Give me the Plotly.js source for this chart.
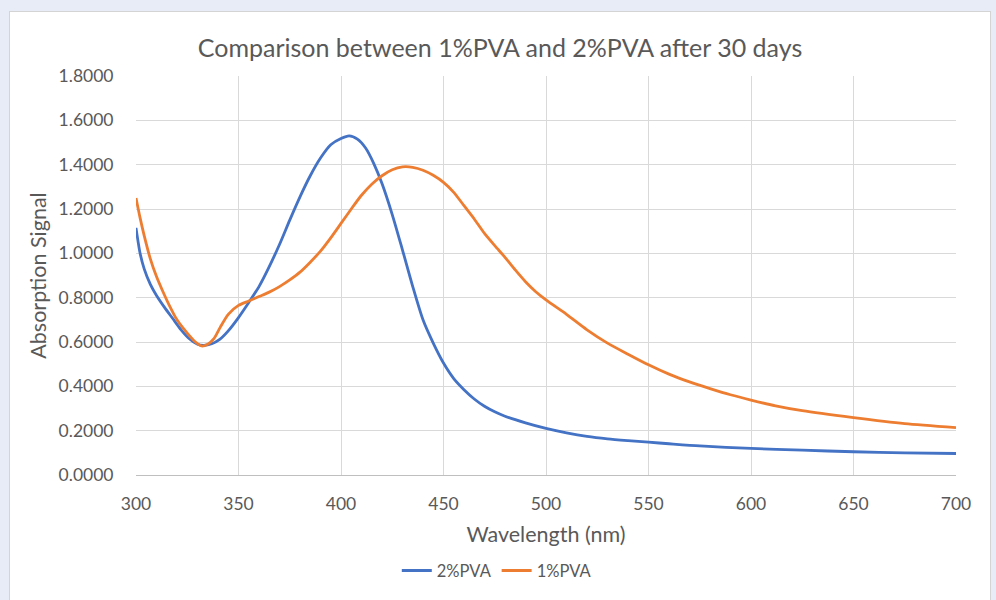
<!DOCTYPE html>
<html>
<head>
<meta charset="utf-8">
<script src="https://cdn.plot.ly/plotly-3.0.1.min.js"></script>
<style>
  html, body { margin: 0; padding: 0; background: #E8ECF6; width: 996px; height: 600px; overflow: hidden; }
  #frame { position: absolute; left: 9px; top: 11px; width: 980px; height: 589px; background: #fff; border: 1px solid #d4d4d4; border-bottom: none; }
  #chart { width: 980px; height: 589px; }
</style>
</head>
<body>
<div id="frame"><div id="chart"></div></div>
<script>
const wavelengthBlue = [300, 302, 304, 307, 310, 314, 318, 322, 326, 330, 333, 337, 341, 345, 350, 355, 360, 365, 370, 375, 380, 385, 390, 395, 400, 404, 408, 412, 416, 420, 425, 430, 435, 440, 445, 450, 455, 460, 465, 470, 475, 480, 490, 500, 510, 520, 530, 540, 550, 560, 575, 600, 625, 650, 675, 700];
const pva2 = [1.115, 1.0, 0.93, 0.86, 0.81, 0.755, 0.705, 0.655, 0.615, 0.59, 0.585, 0.592, 0.613, 0.65, 0.71, 0.778, 0.85, 0.94, 1.04, 1.15, 1.255, 1.35, 1.43, 1.49, 1.518, 1.53, 1.515, 1.475, 1.405, 1.315, 1.175, 1.015, 0.85, 0.70, 0.595, 0.505, 0.435, 0.385, 0.343, 0.31, 0.285, 0.265, 0.235, 0.21, 0.19, 0.174, 0.163, 0.155, 0.148, 0.141, 0.131, 0.12, 0.112, 0.105, 0.1, 0.097];

const wavelengthOrange = [300, 302, 304, 307, 310, 313, 316, 320, 325, 329, 332, 335, 338, 341, 345, 350, 355, 360, 365, 370, 375, 380, 385, 390, 395, 400, 405, 410, 415, 420, 425, 430, 435, 440, 445, 450, 455, 460, 465, 470, 475, 480, 485, 490, 495, 500, 510, 520, 530, 540, 550, 560, 570, 580, 590, 600, 612, 625, 650, 675, 700];
const pva1 = [1.25, 1.16, 1.08, 0.975, 0.895, 0.83, 0.77, 0.7, 0.64, 0.6, 0.582, 0.59, 0.615, 0.665, 0.725, 0.765, 0.785, 0.805, 0.825, 0.85, 0.88, 0.915, 0.96, 1.01, 1.07, 1.135, 1.2, 1.262, 1.312, 1.35, 1.377, 1.39, 1.388, 1.375, 1.352, 1.32, 1.275, 1.215, 1.155, 1.09, 1.035, 0.982, 0.925, 0.872, 0.827, 0.79, 0.725, 0.655, 0.595, 0.545, 0.497, 0.455, 0.42, 0.39, 0.362, 0.338, 0.312, 0.29, 0.259, 0.232, 0.214];

const seriesNames = ['2%PVA', '1%PVA'];
const yTickVals = [0, 0.2, 0.4, 0.6, 0.8, 1.0, 1.2, 1.4, 1.6, 1.8];
const xTickVals = [300, 350, 400, 450, 500, 550, 600, 650, 700];

const txt = '#595959';
const font = 'Lato, "Open Sans", sans-serif';

const traces = [
  { x: wavelengthBlue, y: pva2, name: seriesNames[0], type: 'scatter', mode: 'lines',
    line: { color: '#4472C4', width: 2.8, shape: 'spline', smoothing: 0.7 } },
  { x: wavelengthOrange, y: pva1, name: seriesNames[1], type: 'scatter', mode: 'lines',
    line: { color: '#ED7D31', width: 2.8, shape: 'spline', smoothing: 0.7 } }
];

const layout = {
  width: 980, height: 589,
  paper_bgcolor: '#ffffff', plot_bgcolor: '#ffffff',
  margin: { l: 126, r: 34, t: 64, b: 126 },
  font: { family: font, color: txt, size: 16 },
  title: { text: 'Comparison between 1%PVA and 2%PVA after 30 days', font: { family: font, size: 25, color: txt },
           x: 0.5, xref: 'container', xanchor: 'center', y: 0.939, yref: 'container', yanchor: 'middle' },
  xaxis: {
    range: [300, 700], tickvals: xTickVals, ticktext: xTickVals.map(String),
    showgrid: true, gridcolor: '#d9d9d9', gridwidth: 1,
    showline: true, linecolor: '#bfbfbf', linewidth: 1.2,
    zeroline: false, ticks: 'outside', ticklen: 13, tickcolor: 'rgba(0,0,0,0)',
    tickfont: { size: 17.5, color: txt, family: font },
    title: { text: 'Wavelength (nm)', font: { size: 21.5, color: txt, family: font }, standoff: 13 }
  },
  yaxis: {
    range: [0, 1.8], tickvals: yTickVals, ticktext: yTickVals.map(v => v.toFixed(4)),
    showgrid: true, gridcolor: '#d9d9d9', gridwidth: 1,
    showline: false, zeroline: false,
    ticks: 'outside', ticklen: 18, tickcolor: 'rgba(0,0,0,0)',
    tickfont: { size: 17.5, color: txt, family: font },
    title: { text: 'Absorption Signal', font: { size: 21.5, color: txt, family: font }, standoff: 6 }
  },
  showlegend: true,
  legend: { orientation: 'h', x: 0.44, xanchor: 'center', y: -0.24, yanchor: 'middle',
            font: { size: 16.5, color: txt, family: font }, itemwidth: 30, tracegroupgap: 0 }
};

Plotly.newPlot('chart', traces, layout, { staticPlot: true, displayModeBar: false });
</script>
</body>
</html>
